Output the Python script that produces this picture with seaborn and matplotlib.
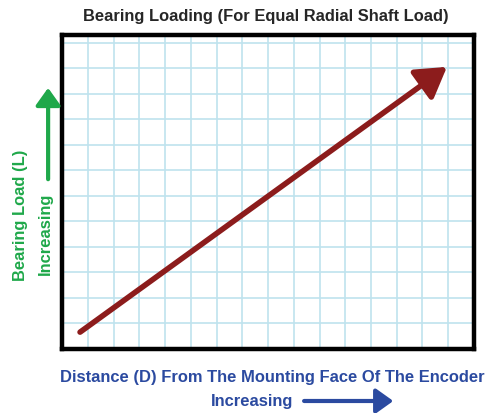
import matplotlib
matplotlib.use("Agg")
import matplotlib.pyplot as plt
from matplotlib.patches import FancyArrowPatch
import seaborn as sns

# arrow end points (distance, load)
distance = [0.7, 14.95]
load = [0.66, 11.05]
x_grid = list(range(1, 16))
y_grid = list(range(1, 13))

title = "Bearing Loading (For Equal Radial Shaft Load)"
xlabel = "Distance (D) From The Mounting Face Of The Encoder"
ylabel = "Bearing Load (L)"
inc = "Increasing"

sns.set_style("white")
plt.rcParams["font.family"] = ["Liberation Sans", "DejaVu Sans"]

red = "#8c1c1c"
blue = "#2b4aa0"
green = "#1fa84a"
fs = 11.9

fig = plt.figure(figsize=(4.86, 4.14), dpi=100)
ax = fig.add_axes([0.1276, 0.1546, 0.8477, 0.7585])
ax.set_xlim(0, 16)
ax.set_ylim(0, 12.3)
ax.set_xticks(x_grid)
ax.set_yticks(y_grid)
ax.grid(True, color="#bfe3ee", lw=1.2)
ax.tick_params(length=0, labelbottom=False, labelleft=False)
for s in ax.spines.values():
    s.set_linewidth(3.2)
    s.set_color("black")

ax.annotate("", xy=(distance[1], load[1]), xytext=(distance[0], load[0]),
            arrowprops=dict(arrowstyle="-|>,head_length=0.9,head_width=0.55", lw=4,
                            color=red, shrinkA=0, shrinkB=0, mutation_scale=20))

# title and axis captions
fig.text(0.546, 0.959, title, ha="center", va="center", fontsize=fs, fontweight="bold")
fig.text(0.561, 0.087, xlabel, ha="center", va="center", fontsize=fs, fontweight="bold", color=blue)
fig.text(0.603, 0.029, inc, ha="right", va="center", fontsize=fs, fontweight="bold", color=blue)
fig.add_artist(FancyArrowPatch((0.62, 0.029), (0.815, 0.029),
               transform=fig.transFigure, arrowstyle="-|>,head_length=0.7,head_width=0.5",
               lw=3, color=blue, mutation_scale=15))
fig.text(0.043, 0.481, ylabel, ha="center", va="center", rotation=90, fontsize=fs,
         fontweight="bold", color=green)
fig.text(0.093, 0.435, inc, ha="center", va="center", rotation=90, fontsize=fs,
         fontweight="bold", color=green)
fig.add_artist(FancyArrowPatch((0.099, 0.558), (0.099, 0.792),
               transform=fig.transFigure, arrowstyle="-|>,head_length=0.7,head_width=0.5",
               lw=3, color=green, mutation_scale=15))

fig.savefig("out.png", dpi=100)
